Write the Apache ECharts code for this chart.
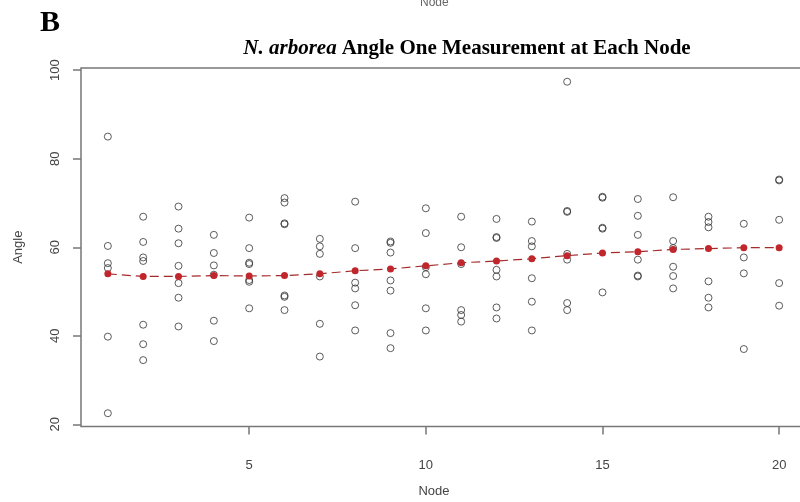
<!DOCTYPE html>
<html>
<head>
<meta charset="utf-8">
<script src="https://cdn.jsdelivr.net/npm/echarts@6/dist/echarts.min.js"></script>
<style>html,body{margin:0;padding:0;background:#fff}#c{width:800px;height:502px}</style>
</head>
<body>
<div id="c"></div>
<script>
const nodes = [1,2,3,4,5,6,7,8,9,10,11,12,13,14,15,16,17,18,19,20];
const angleByNode = [
  [85.0, 60.3, 56.4, 55.3, 39.8, 22.5],
  [66.9, 61.2, 57.7, 56.9, 42.5, 38.1, 34.5],
  [69.2, 64.2, 60.9, 55.8, 51.9, 48.6, 42.1],
  [62.8, 58.7, 55.9, 53.8, 43.4, 38.8],
  [66.7, 59.8, 56.5, 56.2, 52.6, 52.2, 46.2],
  [71.1, 70.1, 65.4, 65.2, 49.1, 48.8, 45.8],
  [61.9, 60.2, 58.5, 53.4, 42.7, 35.3],
  [70.3, 59.8, 52.0, 50.7, 46.9, 41.2],
  [61.3, 61.0, 58.8, 52.5, 50.2, 40.6, 37.2],
  [68.8, 63.2, 55.5, 53.9, 46.2, 41.2],
  [66.9, 60.0, 56.2, 45.8, 44.7, 43.2],
  [66.4, 62.3, 62.1, 54.9, 53.4, 46.4, 43.9],
  [65.8, 61.4, 60.2, 53.0, 47.7, 41.2],
  [97.4, 68.2, 68.0, 58.5, 57.2, 47.4, 45.8],
  [71.4, 71.2, 64.4, 64.2, 49.8],
  [70.9, 67.1, 62.8, 57.2, 53.6, 53.4],
  [71.3, 61.4, 59.8, 55.6, 53.5, 50.7],
  [66.9, 65.7, 64.5, 52.3, 48.6, 46.4],
  [65.3, 57.7, 54.1, 37.0],
  [75.3, 75.1, 66.2, 51.9, 46.8]
];
const fitted = [54.0, 53.4, 53.4, 53.6, 53.5, 53.6, 54.0, 54.7, 55.1, 55.8, 56.5, 56.9, 57.4, 58.1, 58.7, 59.0, 59.5, 59.7, 59.9, 59.9];
const xTicks = [5, 10, 15, 20];
const yTicks = [20, 40, 60, 80, 100];

const points = [];
angleByNode.forEach((vals, i) => vals.forEach(v => points.push([nodes[i], v])));
const fitData = nodes.map((n, i) => [n, fitted[i]]);

const axisGray = '#777';
const labelColor = '#444';
const chart = echarts.init(document.getElementById('c'), null, {renderer: 'canvas'});
chart.setOption({
  backgroundColor: '#fff',
  animation: false,
  title: {
    text: '{i|N. arborea} {b|Angle One Measurement at Each Node}',
    left: 462, top: 33, textAlign: 'center',
    textStyle: {
      rich: {
        i: {fontFamily: 'Liberation Serif', fontStyle: 'italic', fontWeight: 'bold', fontSize: 21, color: '#000'},
        b: {fontFamily: 'Liberation Serif', fontWeight: 'bold', fontSize: 21, color: '#000'}
      }
    }
  },
  graphic: [
    {type: 'text', left: 40, top: 8, style: {text: 'B', fontFamily: 'Liberation Serif', fontWeight: 'bold', fontSize: 30, fill: '#000'}},
    {type: 'text', left: 420, top: -3, style: {text: 'Node', fontFamily: 'Liberation Sans', fontSize: 12, fill: '#666'}}
  ],
  grid: {
    left: 81, top: 68, right: -6, bottom: 75.5,
    outerBoundsMode: 'none',
    show: true, borderColor: axisGray, borderWidth: 1.5, backgroundColor: 'transparent'
  },
  xAxis: {
    type: 'value', min: 0.24, max: 20.76,
    name: 'Node', nameLocation: 'middle', nameGap: 58,
    nameTextStyle: {fontFamily: 'Liberation Sans', fontSize: 13, color: labelColor, padding: [0, 19, 0, 0]},
    axisLine: {show: false},
    splitLine: {show: false},
    axisTick: {show: true, length: 8, lineStyle: {color: axisGray, width: 1.5}, customValues: xTicks},
    axisLabel: {customValues: xTicks, margin: 32, fontFamily: 'Liberation Sans', fontSize: 13, color: labelColor}
  },
  yAxis: {
    type: 'value', min: 19.5, max: 100.5,
    name: 'Angle', nameLocation: 'middle', nameGap: 56,
    nameTextStyle: {fontFamily: 'Liberation Sans', fontSize: 13, color: labelColor},
    axisLine: {show: false},
    splitLine: {show: false},
    axisTick: {show: true, length: 8, lineStyle: {color: axisGray, width: 1.5}, customValues: yTicks},
    axisLabel: {customValues: yTicks, rotate: 90, margin: 19, fontFamily: 'Liberation Sans', fontSize: 13, color: labelColor}
  },
  series: [
    {
      type: 'scatter', data: points, symbol: 'circle', symbolSize: 7,
      itemStyle: {color: 'rgba(255,255,255,0)', borderColor: '#333', borderWidth: 1},
      z: 2
    },
    {
      type: 'line', data: fitData, symbol: 'circle', symbolSize: 7, showSymbol: true,
      lineStyle: {color: '#a52a2a', width: 1.2, type: [9, 5]},
      itemStyle: {color: '#c0262c', borderColor: '#c0262c', borderWidth: 0},
      z: 3
    }
  ]
});
</script>
</body>
</html>
